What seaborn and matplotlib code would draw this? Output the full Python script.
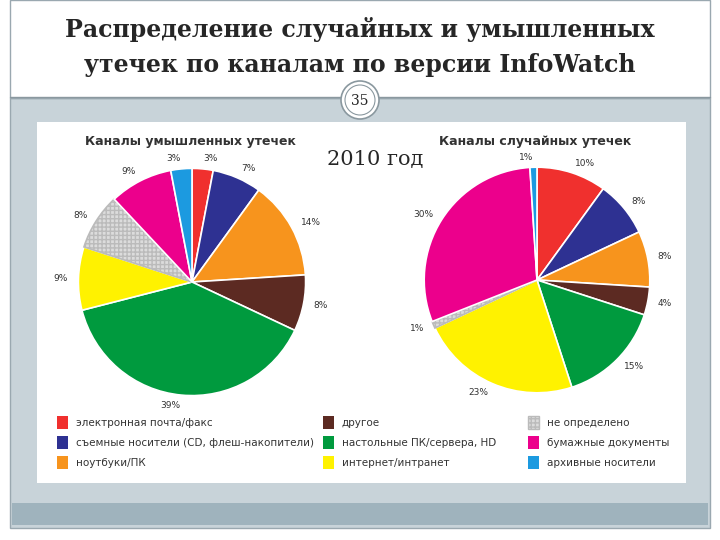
import matplotlib
matplotlib.use("Agg")
import matplotlib.pyplot as plt
import seaborn as sns
from matplotlib.patches import Rectangle, Circle

sns.set_theme(style="white")
plt.rcParams['font.family'] = ['DejaVu Sans']

categories = ["электронная почта/факс", "съемные носители (CD, флеш-накопители)", "ноутбуки/ПК",
              "другое", "настольные ПК/сервера, HD", "интернет/интранет",
              "не определено", "бумажные документы", "архивные носители"]
colors = ["#f0302e", "#2e3192", "#f7941d", "#5c2a22", "#009a3e", "#fff200",
          "#dcdcdc", "#ec008c", "#1c9ae0"]
intentional = [3, 7, 14, 8, 39, 9, 8, 9, 3]
accidental = [10, 8, 8, 4, 15, 23, 1, 30, 1]

W, H = 720, 540
fig = plt.figure(figsize=(7.2, 5.4), dpi=100)
fig.patch.set_facecolor("white")
bg = fig.add_axes([0, 0, 1, 1]); bg.set_xlim(0, W); bg.set_ylim(H, 0); bg.axis("off")
bg.add_patch(Rectangle((10, 98), 700, 430, facecolor="#c8d3d9", edgecolor="#9aa8b0"))
bg.add_patch(Rectangle((10, 0), 700, 98, facecolor="white", edgecolor="#9aa8b0"))
bg.plot([10, 710], [97, 97], color="#8a989f", lw=1)
bg.add_patch(Rectangle((37, 122), 649, 361, facecolor="white", edgecolor="none"))
bg.add_patch(Rectangle((12, 503), 696, 22, facecolor="#9fb3bd", edgecolor="none"))
bg.add_patch(Circle((360, 100), 19, facecolor="white", edgecolor="#8a989f", lw=1.2, zorder=3))
bg.add_patch(Circle((360, 100), 15, facecolor="white", edgecolor="#8a989f", lw=0.8, zorder=3))
bg.text(360, 101, "35", ha="center", va="center", fontsize=10, family="DejaVu Serif", zorder=4)
bg.text(360, 30, "Распределение случайных и умышленных", ha="center", va="center",
        fontsize=17, fontweight="bold", family="DejaVu Serif")
bg.text(360, 65, "утечек по каналам по версии InfoWatch", ha="center", va="center",
        fontsize=17, fontweight="bold", family="DejaVu Serif")
bg.text(375, 160, "2010 год", ha="center", va="center", fontsize=15, family="DejaVu Serif")
bg.text(190, 142, "Каналы умышленных утечек", ha="center", va="center", fontsize=9, fontweight="bold", color="#333333")
bg.text(535, 142, "Каналы случайных утечек", ha="center", va="center", fontsize=9, fontweight="bold", color="#333333")

def pie(cx, cy, r, vals):
    ax = fig.add_axes([(cx - r - 40) / W, 1 - (cy + r + 40) / H, (2 * r + 80) / W, (2 * r + 80) / H])
    wedges, texts = ax.pie(vals, colors=colors, startangle=90, counterclock=False,
                           labels=[f"{v}%" for v in vals], labeldistance=1.09,
                           wedgeprops=dict(edgecolor="white", linewidth=1.2),
                           textprops=dict(fontsize=6.5, color="#333333"))
    wedges[6].set_hatch("++++"); wedges[6].set_edgecolor("#bbbbbb")
    ax.set_aspect("equal"); ax.axis("off")

pie(192, 282, 102, intentional)
pie(537, 280, 101, accidental)

cols = [(57, [0, 1, 2]), (323, [3, 4, 5]), (528, [6, 7, 8])]
for x, idx in cols:
    for j, i in enumerate(idx):
        y = 422 + j * 20
        bg.add_patch(Rectangle((x, y - 6), 11, 13, facecolor=colors[i],
                               edgecolor="#bbbbbb" if i == 6 else "none",
                               hatch="++++" if i == 6 else None))
        bg.text(x + 19, y + 1, categories[i], va="center", fontsize=7.5, color="#333333")

fig.savefig("out.png", dpi=100)
